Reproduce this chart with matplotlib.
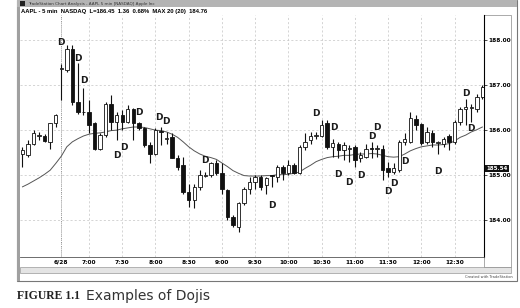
import matplotlib
matplotlib.use("Agg")
from matplotlib import pyplot as plt
from matplotlib.patches import Rectangle

# 5-min AAPL bars (bar 8 = first bar of 6/28)
opens = [185.48, 185.44, 185.70, 185.88, 185.87, 185.74, 186.15, 187.37, 187.33, 187.81,
         186.63, 186.41, 186.41, 186.15, 185.59, 185.89, 186.59, 186.19, 186.33, 186.19,
         186.48, 186.15, 186.04, 185.67, 185.48, 185.97, 185.81, 185.85, 185.37, 185.22,
         184.63, 184.44, 184.74, 184.99, 185.00, 185.27, 185.04, 184.68, 184.07, 183.85,
         184.37, 184.70, 184.85, 184.96, 184.78, 184.99, 184.96, 185.19, 185.04, 185.22,
         185.04, 185.63, 185.78, 185.87, 185.87, 186.15, 185.63, 185.69, 185.56, 185.59,
         185.63, 185.37, 185.41, 185.61, 185.57, 185.57, 185.15, 185.07, 185.11, 185.74,
         185.74, 186.24, 186.13, 185.74, 185.94, 185.72, 185.70, 185.87, 185.74, 186.19,
         186.47, 186.50, 186.48, 186.74]
highs = [185.63, 185.78, 186.00, 185.96, 185.91, 186.16, 186.37, 187.48, 187.89, 187.89,
         187.50, 186.93, 186.67, 186.19, 185.93, 186.63, 186.78, 186.41, 186.44, 186.56,
         186.50, 186.19, 186.07, 185.74, 186.04, 186.07, 185.96, 185.93, 185.44, 185.41,
         184.81, 184.81, 185.11, 185.07, 185.30, 185.33, 185.26, 184.70, 184.11, 184.41,
         184.74, 184.96, 185.00, 185.00, 184.96, 185.01, 185.22, 185.22, 185.33, 185.26,
         185.67, 185.93, 185.96, 185.96, 186.22, 186.22, 185.81, 185.74, 185.74, 185.67,
         185.67, 185.52, 185.70, 185.74, 185.67, 185.67, 185.30, 185.26, 185.78, 185.93,
         186.41, 186.33, 186.16, 186.07, 186.01, 185.76, 185.85, 185.91, 186.22, 186.52,
         186.70, 186.59, 186.81, 187.00]
lows = [185.19, 185.41, 185.67, 185.78, 185.74, 185.58, 186.07, 186.67, 187.30, 186.56,
        186.37, 186.33, 185.93, 185.56, 185.56, 185.85, 186.00, 185.78, 186.00, 186.15,
        185.78, 186.00, 185.63, 185.26, 185.44, 185.67, 185.70, 185.37, 185.11, 184.59,
        184.30, 184.26, 184.67, 184.96, 184.96, 185.00, 184.59, 184.00, 183.85, 183.74,
        184.33, 184.59, 184.70, 184.68, 184.58, 184.74, 184.85, 184.89, 185.00, 185.02,
        185.02, 185.56, 185.70, 185.81, 185.84, 185.59, 185.41, 185.37, 185.33, 185.30,
        185.19, 185.30, 185.37, 185.37, 185.41, 184.89, 184.96, 185.02, 185.07, 185.67,
        185.72, 186.00, 185.67, 185.70, 185.63, 185.48, 185.63, 185.56, 185.70, 186.11,
        186.11, 186.19, 186.41, 186.70]
closes = [185.56, 185.70, 185.94, 185.89, 185.76, 186.15, 186.33, 187.38, 187.81, 186.63,
          186.41, 186.40, 186.11, 185.59, 185.89, 186.59, 186.19, 186.33, 186.19, 186.46,
          186.15, 186.04, 185.67, 185.48, 186.00, 185.96, 185.82, 185.37, 185.19, 184.63,
          184.44, 184.74, 185.00, 185.01, 185.26, 185.04, 184.70, 184.07, 183.89, 184.37,
          184.70, 184.85, 184.96, 184.74, 184.93, 184.98, 185.19, 185.04, 185.22, 185.04,
          185.63, 185.74, 185.87, 185.88, 186.11, 185.63, 185.72, 185.56, 185.67, 185.60,
          185.33, 185.44, 185.59, 185.57, 185.61, 185.11, 185.07, 185.15, 185.74, 185.81,
          186.26, 186.11, 185.72, 185.96, 185.74, 185.73, 185.81, 185.74, 186.19, 186.48,
          186.52, 186.51, 186.74, 186.96]
ma20 = [184.74, 184.80, 184.87, 184.94, 185.02, 185.11, 185.26, 185.42, 185.63, 185.74,
        185.81, 185.87, 185.91, 185.93, 185.94, 185.96, 185.99, 186.00, 186.03, 186.05,
        186.07, 186.07, 186.06, 186.03, 186.00, 185.99, 185.96, 185.91, 185.84, 185.74,
        185.63, 185.54, 185.47, 185.42, 185.39, 185.35, 185.27, 185.19, 185.10, 185.04,
        184.99, 184.98, 184.98, 184.98, 184.99, 184.99, 185.01, 185.01, 185.02, 185.04,
        185.07, 185.15, 185.22, 185.30, 185.35, 185.39, 185.41, 185.42, 185.44, 185.44,
        185.46, 185.47, 185.47, 185.48, 185.47, 185.44, 185.41, 185.40, 185.41, 185.47,
        185.54, 185.59, 185.63, 185.65, 185.67, 185.67, 185.68, 185.70, 185.76, 185.84,
        185.89, 185.96, 186.01, 186.07]

# "D" doji markers: bar number and price where the letter sits
doji_bars = [8, 11, 12, 18.1, 19.3, 22, 25.6, 26.9, 34, 46, 54, 57.2, 58, 60, 62, 64, 65,
             67, 68, 70, 76, 81, 82]
doji_prices = [187.94, 187.59, 187.10, 185.44, 185.61, 186.39, 186.28, 186.19, 185.33,
               184.33, 186.36, 186.05, 185.02, 184.83, 185.00, 185.85, 186.07, 184.63,
               184.81, 185.30, 185.09, 186.81, 186.04]

time_bars = [8, 13, 19, 25, 31, 37, 43, 49, 55, 61, 67, 73, 79]
time_labels = ["6/28", "7:00", "7:30", "8:00", "8:30", "9:00", "9:30", "10:00",
               "10:30", "11:00", "11:30", "12:00", "12:30"]
price_ticks = [184, 185, 186, 187, 188]

W, H = 520, 308
fig = plt.figure(figsize=(W / 100, H / 100), dpi=100)


def fx(px):
    return px / W


def fy(py):
    return 1 - py / H


def box(x, y, w, h, **kw):
    # rectangle in pixel units from the top-left corner, drawn behind the axes
    fig.patches.append(Rectangle((fx(x), fy(y + h)), w / W, h / H,
                                 transform=fig.transFigure, zorder=-5, **kw))


# window chrome
box(17, 0, 500, 281, facecolor='white', edgecolor='#777777', lw=0.8)
box(17, 0, 500, 7, facecolor='#b4b4b4', edgecolor='none')
box(17, 7, 3, 274, facecolor='#a0a0a0', edgecolor='none')
box(20, 267, 491, 6, facecolor='#e4e4e4', edgecolor='#999999', lw=0.5)
box(20, 1.5, 5, 4, facecolor='#222222', edgecolor='none')
box(484, 15, 27, 252, facecolor='white', edgecolor='#888888', lw=0.5)
fig.text(fx(28), fy(3.6), "TradeStation Chart Analysis - AAPL 5 min [NASDAQ] Apple Inc",
         fontsize=3, color='#333333', va='center')
fig.text(fx(21), fy(11), "AAPL - 5 min  NASDAQ  L=186.45  1.36  0.68%  MAX 20 (20)  184.76",
         fontsize=4.2, fontweight='bold', family='Liberation Sans', va='center')
fig.text(fx(513), fy(277), "Created with TradeStation", fontsize=2.6, ha='right',
         va='center', color='#444444')

ax = fig.add_axes([fx(20), fy(257), (484 - 20) / W, (257 - 15) / H])
ax.set_zorder(2)
bars = list(range(1, len(opens) + 1))

ax.vlines(bars, lows, highs, color='#111111', lw=0.8, zorder=3)
for b, o, c in zip(bars, opens, closes):
    up = c >= o
    bottom = min(o, c)
    height = max(abs(c - o), 0.012)
    ax.bar(b, height, bottom=bottom, width=0.62,
           color='white' if up else '#111111', edgecolor='#111111', lw=0.6, zorder=4)

ax.plot(bars, ma20, color='#555555', lw=0.7, zorder=2)

for b, p in zip(doji_bars, doji_prices):
    ax.text(b, p, "D", fontsize=6.5, fontweight='bold', ha='center', va='center',
            color='#1a1a1a', zorder=5)

ax.set_xlim(0.55, 84.3)
ax.set_ylim(183.18, 188.56)
ax.set_xticks(time_bars)
ax.set_xticklabels(time_labels, fontsize=4.2, fontweight='bold')
ax.set_yticks(price_ticks)
ax.set_yticklabels(["%.2f" % p for p in price_ticks], fontsize=4.2, fontweight='bold')
ax.yaxis.tick_right()
ax.tick_params(axis='y', length=2, pad=1, width=0.5)
ax.tick_params(axis='x', length=0, pad=2)
ax.grid(True, color='#c4c4c4', linestyle=(0, (3, 3)), linewidth=0.5)
ax.axvline(time_bars[0], color='#666666', linestyle=(0, (1, 1.5)), lw=0.6, zorder=1)
for side in ['top', 'left']:
    ax.spines[side].set_visible(False)
ax.spines['right'].set_linewidth(0.8)
ax.spines['bottom'].set_linewidth(0.6)
ax.spines['bottom'].set_color('#555555')

# last value box on the price scale
ax.text(1.005, 185.15, "185.54", transform=ax.get_yaxis_transform(), fontsize=4,
        fontweight='bold', color='white', va='center', ha='left',
        bbox=dict(boxstyle='square,pad=0.15', fc='#111111', ec='none'))

# caption
fig.text(fx(17), fy(296), "FIGURE 1.1", fontsize=8.5, fontweight='bold',
         family='Liberation Serif', va='center', color='#222222')
fig.text(fx(86), fy(296), "Examples of Dojis", fontsize=10, va='center', color='#333333')

fig.savefig("out.png", dpi=100)
